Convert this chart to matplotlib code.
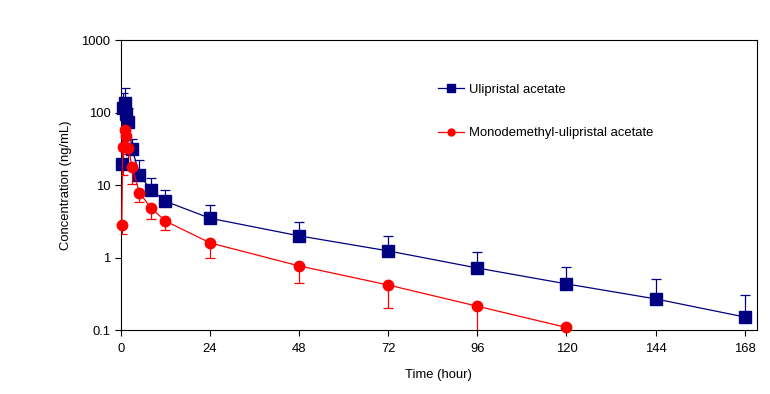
import matplotlib.pyplot as plt
import numpy as np
from matplotlib.lines import Line2D

plt.rcParams['font.family'] = ['Liberation Sans', 'DejaVu Sans']
plt.rcParams['font.size'] = 9.4

# sampling times (hour)
time_upa = [0.25, 0.5, 1, 1.5, 2, 3, 5, 8, 12, 24, 48, 72, 96, 120, 144, 168]
conc_upa = [19.5, 115, 136, 97, 75, 32, 14, 8.7, 6.0, 3.5, 2.0, 1.24, 0.72, 0.435, 0.27, 0.152]
sd_upa = [15, 70, 80, 60, 40, 12, 8.5, 3.9, 2.5, 1.8, 1.15, 0.72, 0.46, 0.30, 0.23, 0.15]

time_mono = [0.25, 0.5, 1, 1.5, 2, 3, 5, 8, 12, 24, 48, 72, 96, 120]
conc_mono = [2.8, 34, 57, 47, 33, 17.8, 7.9, 4.9, 3.2, 1.6, 0.77, 0.42, 0.214, 0.109]
sd_mono = [0.7, 20, 25, 20, 15, 7.3, 2.0, 1.5, 0.8, 0.61, 0.32, 0.22, 0.25, 0.0]

xticks = [0, 24, 48, 72, 96, 120, 144, 168]
yticks = [0.1, 1, 10, 100, 1000]

fig = plt.figure(figsize=(7.7, 3.94), dpi=100)
ax = fig.add_axes([0.157, 0.162, 0.826, 0.736])

blue = '#000080'
red = '#ff0000'

eb1 = ax.errorbar(time_upa, conc_upa, yerr=[np.zeros(len(sd_upa)), sd_upa],
                  color=blue, lw=0.9, marker='s', ms=8, mfc=blue, mec=blue,
                  ecolor=blue, elinewidth=0.9, capsize=3.5, capthick=0.9,
                  zorder=3)
eb2 = ax.errorbar(time_mono, conc_mono, yerr=[sd_mono, np.zeros(len(sd_mono))],
                  color=red, lw=0.9, marker='o', ms=7.5, mfc=red, mec=red,
                  ecolor=red, elinewidth=0.9, capsize=3.5, capthick=0.9,
                  zorder=3)
# markers may overhang the frame, error bars stay inside
for eb in (eb1, eb2):
    eb.lines[0].set_clip_on(False)

ax.set_yscale('log')
ax.set_ylim(0.1, 1000)
ax.set_xlim(0, 171.3)
ax.set_xticks(xticks)
ax.set_xticklabels([str(t) for t in xticks])
ax.set_yticks(yticks)
ax.set_yticklabels(['0.1', '1', '10', '100', '1000'])
ax.yaxis.set_minor_locator(plt.NullLocator())
ax.tick_params(direction='out', length=4, width=0.8, colors='black')
ax.tick_params(axis='x', pad=5)
for s in ax.spines.values():
    s.set_linewidth(0.8)

ax.set_xlabel('Time (hour)', labelpad=10)
ax.set_ylabel('Concentration (ng/mL)', labelpad=7)

# legend without error bar markers
handles = [Line2D([], [], color=blue, lw=0.9, marker='s', ms=5.5),
           Line2D([], [], color=red, lw=0.9, marker='o', ms=5)]
ax.legend(handles, ['Ulipristal acetate', 'Monodemethyl-ulipristal acetate'],
          loc='upper left', bbox_to_anchor=(0.48, 0.89), frameon=False,
          handlelength=2.0, handletextpad=0.4, labelspacing=2.4)

fig.savefig('out.png', dpi=100)
